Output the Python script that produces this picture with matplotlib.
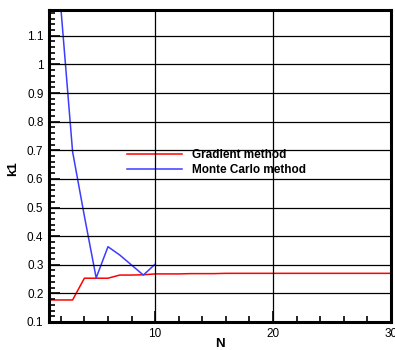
import numpy as np
import matplotlib
matplotlib.use("Agg")
import matplotlib.pyplot as plt
from matplotlib.ticker import MultipleLocator, FormatStrFormatter

plt.rcParams['font.family'] = ['Liberation Sans', 'DejaVu Sans']

# k1 versus number of iterations N
n_grad = list(range(1, 31))
k1_grad = [0.177, 0.177, 0.177, 0.253, 0.253, 0.253, 0.264, 0.264, 0.265, 0.268,
           0.268, 0.268, 0.269, 0.269, 0.269, 0.270, 0.270, 0.270, 0.270, 0.270,
           0.270, 0.270, 0.270, 0.270, 0.270, 0.270, 0.270, 0.270, 0.270, 0.270]

n_mc = list(range(1, 11))
k1_mc = [2.0, 1.20, 0.695, 0.47, 0.254, 0.363, 0.334, 0.299, 0.264, 0.302]

fig = plt.figure(figsize=(3.95, 3.5), dpi=100)
ax = fig.add_axes([49 / 395, 1 - 322 / 350, (391 - 49) / 395, (322 - 10) / 350])

ax.plot(n_grad, k1_grad, color='#ff0000', lw=1.1, label='Gradient method')
ax.plot(n_mc, k1_mc, color='#3c3cff', lw=1.1, label='Monte Carlo method')

ax.set_xlim(1, 30)
ax.set_ylim(0.1, 1.19)
ax.xaxis.set_major_locator(MultipleLocator(10))
ax.xaxis.set_minor_locator(MultipleLocator(2))
ax.yaxis.set_major_locator(MultipleLocator(0.1))
ax.yaxis.set_minor_locator(MultipleLocator(0.02))
ax.yaxis.set_major_formatter(FormatStrFormatter('%g'))

ax.tick_params(which='both', direction='in', labelsize=8.5, width=1.2,
               top=False, right=False, pad=4)
ax.tick_params(which='major', length=8)
ax.tick_params(which='minor', length=4)

for side in ['left', 'bottom', 'right', 'top']:
    ax.spines[side].set_linewidth(2.2)

ax.set_axisbelow(False)
ax.grid(True, which='major', color='black', lw=0.9)

ax.set_xlabel('N', fontsize=9.5, fontweight='bold')
ax.set_ylabel('k1', fontsize=9.5, fontweight='bold')
ax.xaxis.set_label_coords(0.5, -0.052)
ax.yaxis.set_label_coords(-0.088, 0.49)

leg = ax.legend(loc='upper left', bbox_to_anchor=(127 / 395, 1 - 149 / 350),
                bbox_transform=fig.transFigure, frameon=False, borderpad=0,
                borderaxespad=0, handlelength=4.7, handletextpad=0.8,
                labelspacing=0.28, prop={'size': 8.5, 'weight': 'bold'})
leg.set_zorder(1)

fig.savefig('out.png', dpi=100)
